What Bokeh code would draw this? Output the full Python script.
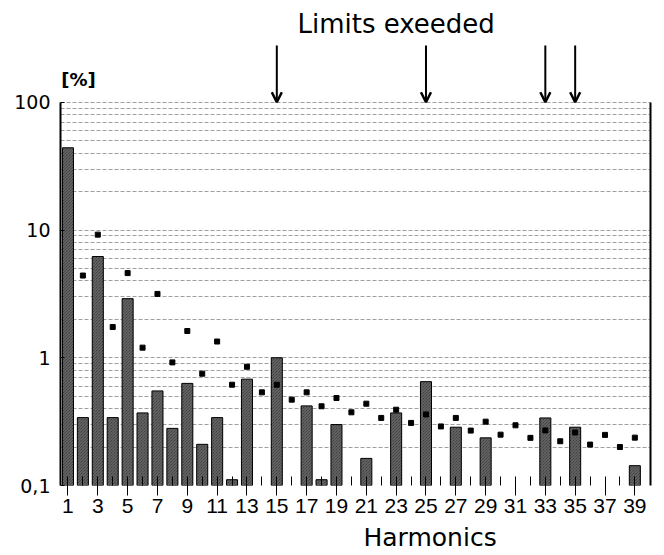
from bokeh.plotting import figure
from bokeh.models import Range1d, FixedTicker, LogAxis, Label, Arrow, OpenHead, CustomJSTickFormatter, Title
from bokeh.embed import file_html
from bokeh.resources import INLINE

# ---- data ----
bar_harmonics = [1, 2, 3, 4, 5, 6, 7, 8, 9, 10, 11, 12, 13, 15, 17, 18, 19, 21, 23, 25, 27, 29, 33, 35, 39]
bar_values = [44.0, 0.34, 6.2, 0.34, 2.9, 0.37, 0.55, 0.28, 0.63, 0.21, 0.34, 0.111, 0.68,
              1.0, 0.42, 0.111, 0.30, 0.163, 0.37, 0.65, 0.286, 0.236, 0.338, 0.286, 0.143]

limit_harmonics = [2, 3, 4, 5, 6, 7, 8, 9, 10, 11, 12, 13, 14, 15, 16, 17, 18, 19, 20,
                   21, 22, 23, 24, 25, 26, 27, 28, 29, 30, 31, 32, 33, 34, 35, 36, 37, 38, 39]
limit_values = [4.4, 9.2, 1.74, 4.6, 1.2, 3.16, 0.92, 1.62, 0.75, 1.34, 0.615, 0.85, 0.536, 0.615,
                0.47, 0.536, 0.417, 0.484, 0.374, 0.437, 0.338, 0.392, 0.309, 0.36, 0.29, 0.338,
                0.269, 0.316, 0.25, 0.296, 0.236, 0.27, 0.222, 0.26, 0.209, 0.249, 0.20, 0.237]

exceeded = [15, 25, 33, 35]

y_major = [0.1, 1, 10, 100]
y_minor = [0.2, 0.3, 0.4, 0.5, 0.6, 0.7, 0.8, 0.9,
           2, 3, 4, 5, 6, 7, 8, 9,
           20, 30, 40, 50, 60, 70, 80, 90]
x_major = list(range(1, 40, 2))
x_minor = list(range(2, 40, 2))

title_text = "Limits exeeded"
x_title = "Harmonics"
y_title = "[%]"

# ---- figure ----
p = figure(frame_width=590, frame_height=477, y_axis_type="log",
           x_range=Range1d(0.5, 40.05), y_range=Range1d(0.1, 542),
           min_border_left=60, min_border_right=12, min_border_top=8, min_border_bottom=68,
           output_backend="svg", toolbar_location=None)
p.outline_line_color = None
p.background_fill_color = "white"

# grid
p.xgrid.visible = False
p.ygrid.ticker = FixedTicker(ticks=[1, 10, 100], minor_ticks=y_minor)
for attr in ("grid_line", "minor_grid_line"):
    setattr(p.ygrid, attr + "_color", "#555555")
    setattr(p.ygrid, attr + "_dash", "4 2")
    setattr(p.ygrid, attr + "_width", 0.8)
    setattr(p.ygrid, attr + "_alpha", 0.7)

# left axis
ya = p.left[0]
ya.ticker = FixedTicker(ticks=y_major, minor_ticks=[])
ya.bounds = (0.1, 100)
ya.formatter = CustomJSTickFormatter(code="return tick < 1 ? String(tick).replace('.', ',') : String(tick);")
ya.axis_line_width = 2
ya.axis_line_color = "black"
ya.major_tick_in = 4
ya.major_tick_out = 0
ya.major_label_standoff = 10
ya.major_label_text_font = "DejaVu Sans"
ya.major_label_text_font_size = "19px"
ya.major_label_text_color = "black"

# right border line
ra = LogAxis(ticker=FixedTicker(ticks=[]), bounds=(0.1, 100), axis_line_width=2,
             axis_line_color="black", major_tick_line_color=None, minor_tick_line_color=None,
             major_label_text_font_size="0px", major_label_standoff=0)
p.add_layout(ra, "right")

# bottom axis
xa = p.below[0]
xa.ticker = FixedTicker(ticks=x_major, minor_ticks=x_minor)
xa.axis_line_color = None
xa.major_tick_in = 9
xa.major_tick_out = 10
xa.minor_tick_in = 9
xa.minor_tick_out = 0
xa.major_tick_line_color = "black"
xa.minor_tick_line_color = "black"
xa.major_label_standoff = 3
xa.major_label_text_font = "Liberation Sans"
xa.major_label_text_font_size = "21px"
xa.major_label_text_color = "black"

# x title below the axis
p.add_layout(Title(text=x_title, align="left", offset=303, standoff=11,
                   text_font="DejaVu Sans", text_font_size="25px", text_font_style="normal",
                   text_color="black"), "below")

# bars
p.vbar(x=bar_harmonics, top=bar_values, bottom=0.1, width=0.74,
       fill_color="#2e2e2e", line_color="black", line_width=1,
       hatch_pattern="\\", hatch_color="#aaaaaa", hatch_alpha=0.55, hatch_scale=3, hatch_weight=1)

# limit markers
p.scatter(x=limit_harmonics, y=limit_values, marker="square", size=5,
          fill_color="black", line_color="black")

# arrows for exceeded limits
for h in exceeded:
    p.add_layout(Arrow(x_start=h, y_start=278, x_end=h, y_end=100,
                       line_color="black", line_width=2,
                       end=OpenHead(size=10, line_width=2.5, line_color="black")))

# texts
p.add_layout(Label(x=23.0, y=413, text=title_text, text_align="center", text_baseline="middle",
                   text_font="DejaVu Sans", text_font_size="26px", text_color="black"))
p.add_layout(Label(x=1.7, y=150, text=y_title, text_align="center", text_baseline="middle",
                   text_font="DejaVu Sans", text_font_size="18px", text_font_style="bold",
                   text_color="black"))

open("out.html", "w").write(file_html(p, INLINE))
